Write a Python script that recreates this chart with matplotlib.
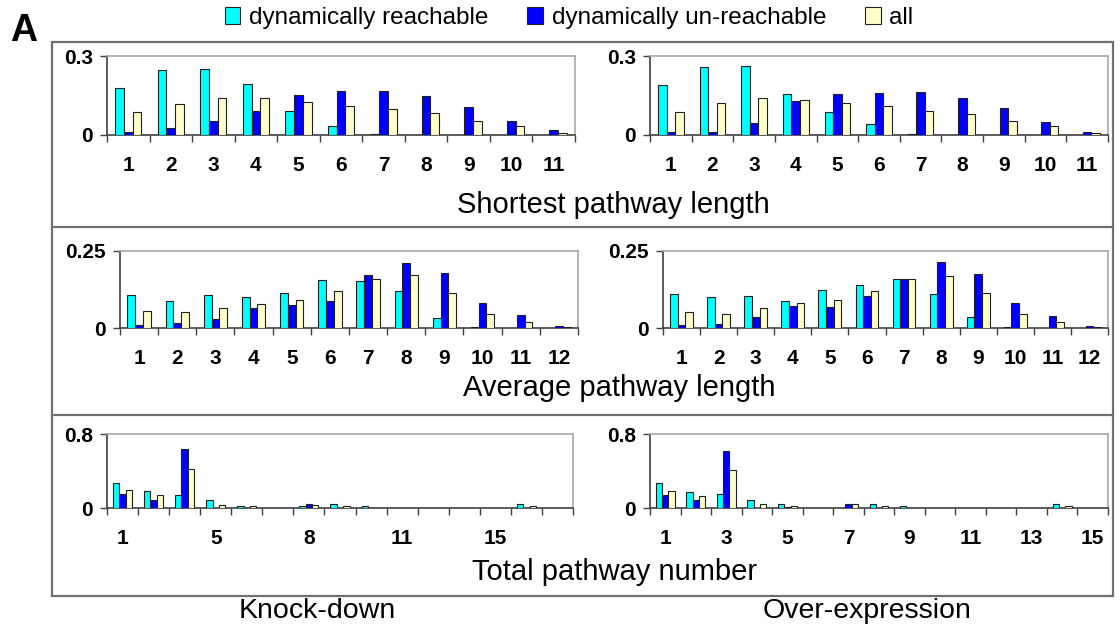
import matplotlib
matplotlib.use("Agg")
import matplotlib.pyplot as plt
import numpy as np
from matplotlib.patches import Rectangle, Patch
from matplotlib.lines import Line2D

plt.rcParams['font.family'] = ['Liberation Sans', 'DejaVu Sans']

# ---- data ----
series_names = ["dynamically reachable", "dynamically un-reachable", "all"]
series_colors = ["#00FFFF", "#0000FF", "#FFFFCC"]

short_cats = [str(i) for i in range(1, 12)]
short_kd_reach = [0.180, 0.247, 0.251, 0.194, 0.091, 0.035, 0.004, 0, 0, 0, 0]
short_kd_unreach = [0.013, 0.026, 0.054, 0.092, 0.153, 0.166, 0.166, 0.149, 0.106, 0.053, 0.020]
short_kd_all = [0.087, 0.119, 0.140, 0.140, 0.125, 0.112, 0.097, 0.082, 0.053, 0.033, 0.009]
short_oe_reach = [0.188, 0.257, 0.261, 0.154, 0.086, 0.041, 0.004, 0, 0, 0, 0]
short_oe_unreach = [0.012, 0.012, 0.046, 0.130, 0.154, 0.159, 0.163, 0.139, 0.101, 0.051, 0.012]
short_oe_all = [0.086, 0.120, 0.139, 0.133, 0.122, 0.109, 0.093, 0.079, 0.055, 0.033, 0.008]

avg_cats = [str(i) for i in range(1, 13)]
avg_kd_reach = [0.107, 0.087, 0.107, 0.102, 0.115, 0.155, 0.152, 0.119, 0.034, 0.002, 0, 0]
avg_kd_unreach = [0.010, 0.017, 0.030, 0.066, 0.074, 0.088, 0.171, 0.211, 0.179, 0.082, 0.042, 0.005]
avg_kd_all = [0.054, 0.051, 0.066, 0.078, 0.090, 0.119, 0.158, 0.171, 0.115, 0.047, 0.018, 0.003]
avg_oe_reach = [0.111, 0.100, 0.105, 0.089, 0.122, 0.138, 0.158, 0.111, 0.035, 0.002, 0, 0]
avg_oe_unreach = [0.010, 0.013, 0.036, 0.072, 0.068, 0.105, 0.158, 0.213, 0.176, 0.080, 0.038, 0.006]
avg_oe_all = [0.053, 0.047, 0.064, 0.080, 0.090, 0.119, 0.158, 0.168, 0.114, 0.047, 0.019, 0.003]

tot_kd_cats = ["1", "2", "3", "5", "6", "7", "8", "9", "10", "11", "12", "13", "15", "16", "17"]
tot_kd_reach = [0.268, 0.181, 0.145, 0.083, 0.018, 0.004, 0.022, 0.043, 0.022, 0.004, 0, 0, 0.004, 0.043, 0.004]
tot_kd_unreach = [0.149, 0.087, 0.638, 0, 0.005, 0.004, 0.043, 0, 0.005, 0.004, 0, 0.004, 0, 0, 0.004]
tot_kd_all = [0.196, 0.145, 0.424, 0.036, 0.018, 0.004, 0.036, 0.018, 0.005, 0.004, 0, 0, 0, 0.018, 0.004]
tot_oe_cats = [str(i) for i in range(1, 16)]
tot_oe_reach = [0.273, 0.170, 0.148, 0.087, 0.038, 0.004, 0.005, 0.038, 0.023, 0.004, 0, 0.004, 0.004, 0.045, 0.004]
tot_oe_unreach = [0.140, 0.091, 0.621, 0, 0.008, 0.004, 0.045, 0.005, 0.004, 0.004, 0, 0, 0, 0, 0.004]
tot_oe_all = [0.189, 0.133, 0.409, 0.038, 0.023, 0.004, 0.038, 0.023, 0.004, 0.004, 0, 0, 0, 0.023, 0.004]

W, H = 1120, 629
fig = plt.figure(figsize=(W / 100, H / 100), dpi=100)


def px_axes(l, t, r, b):
    return fig.add_axes([l / W, 1 - b / H, (r - l) / W, (b - t) / H])


def panel(ax, cats, vals, ymax, ylabel_max, label_every=1):
    n = len(cats)
    x = np.arange(n)
    bw = 0.205
    for k, (v, c) in enumerate(zip(vals, series_colors)):
        v = np.asarray(v, dtype=float)
        lw = [0.8 if h > 0 else 0 for h in v]
        ax.bar(x + (k - 1) * bw, v, width=bw, color=c, edgecolor="#202020", linewidth=lw, zorder=3)
    ax.set_xlim(-0.5, n - 0.5)
    ax.set_ylim(0, ymax)
    ax.set_yticks([0, ymax])
    ax.set_yticklabels(["0", ylabel_max], fontweight="bold", fontsize=15)
    ax.set_xticks(np.arange(n + 1) - 0.5)
    ax.set_xticklabels([])
    idx = np.arange(0, n, label_every)
    ax.set_xticks(idx, minor=True)
    ax.set_xticklabels([cats[i] for i in idx], minor=True, fontweight="bold", fontsize=15)
    ax.tick_params(axis="x", which="major", length=5, width=1, color="#404040", direction="out")
    ax.tick_params(axis="x", which="minor", length=0, pad=15)
    ax.tick_params(axis="y", length=5, width=1, color="#404040", pad=5)
    for s in ["left", "bottom"]:
        ax.spines[s].set_color("#404040")
        ax.spines[s].set_linewidth(1.2)
    for s in ["top", "right"]:
        ax.spines[s].set_color("#A8A8A8")
        ax.spines[s].set_linewidth(1.2)
    ax.set_facecolor("white")


ax = px_axes(107, 56, 575, 135)
panel(ax, short_cats, [short_kd_reach, short_kd_unreach, short_kd_all], 0.3, "0.3")
ax = px_axes(650, 56, 1108, 135)
panel(ax, short_cats, [short_oe_reach, short_oe_unreach, short_oe_all], 0.3, "0.3")

ax = px_axes(120, 251, 578, 328)
panel(ax, avg_cats, [avg_kd_reach, avg_kd_unreach, avg_kd_all], 0.25, "0.25")
ax = px_axes(663, 251, 1108, 328)
panel(ax, avg_cats, [avg_oe_reach, avg_oe_unreach, avg_oe_all], 0.25, "0.25")

ax = px_axes(107, 434, 573, 508)
panel(ax, tot_kd_cats, [tot_kd_reach, tot_kd_unreach, tot_kd_all], 0.8, "0.8", label_every=3)
ax = px_axes(650, 434, 1108, 508)
panel(ax, tot_oe_cats, [tot_oe_reach, tot_oe_unreach, tot_oe_all], 0.8, "0.8", label_every=2)

# outer frame and separators
box_col = "#707070"
fig.add_artist(Rectangle((52 / W, 1 - 596 / H), (1113 - 52) / W, (596 - 42) / H,
                         transform=fig.transFigure, fill=False, edgecolor=box_col, linewidth=1.6))
for yy in [227, 415]:
    fig.add_artist(Line2D([52 / W, 1113 / W], [1 - yy / H, 1 - yy / H],
                          transform=fig.transFigure, color=box_col, linewidth=1.6))

# titles
fig.text(613 / W, 1 - 205 / H, "Shortest pathway length", ha="center", va="center", fontsize=21)
fig.text(619 / W, 1 - 388 / H, "Average pathway length", ha="center", va="center", fontsize=21)
fig.text(615 / W, 1 - 572 / H, "Total pathway number", ha="center", va="center", fontsize=21)
fig.text(317 / W, 1 - 611 / H, "Knock-down", ha="center", va="center", fontsize=20.5)
fig.text(867 / W, 1 - 611 / H, "Over-expression", ha="center", va="center", fontsize=20.5)
fig.text(10 / W, 1 - 31 / H, "A", ha="left", va="center", fontsize=27, fontweight="bold")

handles = [Patch(facecolor=c, edgecolor="#202020", linewidth=0.8) for c in series_colors]
fig.legend(handles, series_names, loc="center", bbox_to_anchor=(569 / W, 1 - 18 / H), ncol=3,
           frameon=False, fontsize=17.5, handlelength=0.65, handleheight=0.65, handletextpad=0.35,
           columnspacing=1.6, borderaxespad=0, borderpad=0)

fig.savefig("out.png", dpi=100, facecolor="white")
